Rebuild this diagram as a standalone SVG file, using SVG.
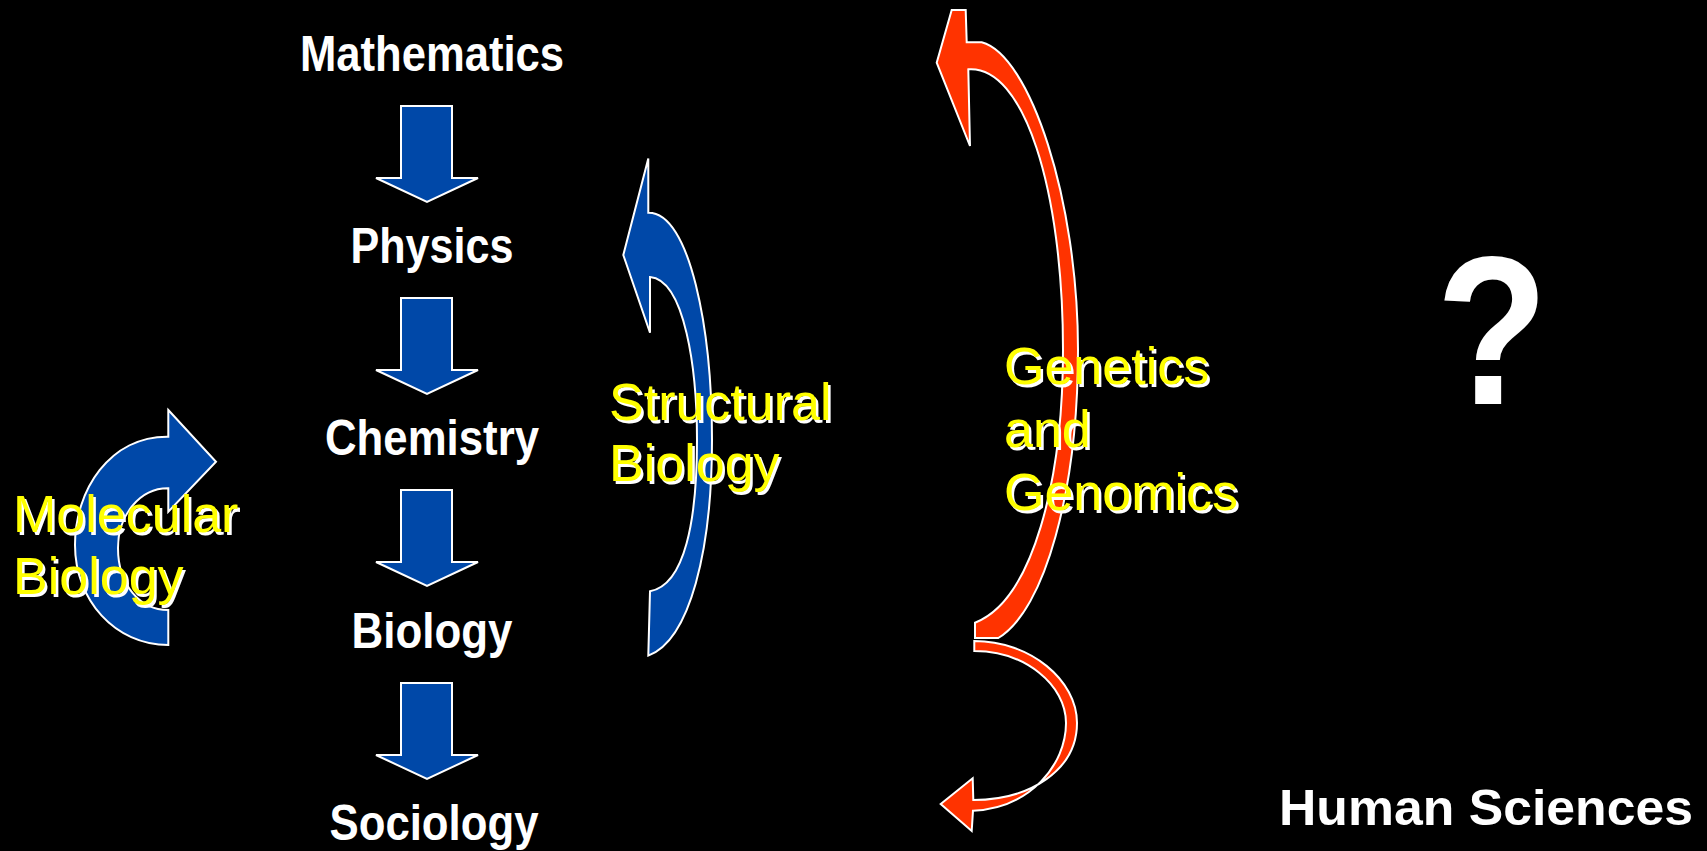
<svg xmlns="http://www.w3.org/2000/svg" xmlns:xlink="http://www.w3.org/1999/xlink" width="1707" height="851" viewBox="0 0 1707 851">
<style>
.node{font-family:"Liberation Sans Narrow","Liberation Sans",Arial,sans-serif;font-weight:bold;font-size:50px;fill:#ffffff;text-anchor:middle}
.lbl{font-family:"Liberation Sans",Arial,sans-serif;font-size:52px;fill:#ffff00}
.sh{fill:#ffffff}
.blue{fill:#0048a8;stroke:#ffffff;stroke-width:2;stroke-linejoin:miter}
.red{fill:#ff3300;stroke:#ffffff;stroke-width:2;stroke-linejoin:miter}
</style>
<defs>
<polygon id="down" class="blue" points="401,106 452,106 452,178 478,178 427,202 376,178 401,178"/>
</defs>
<rect width="1707" height="851" fill="#000000"/>
<g id="connectors">
<use xlink:href="#down"/>
<use xlink:href="#down" transform="translate(0,192)"/>
<use xlink:href="#down" transform="translate(0,384)"/>
<use xlink:href="#down" transform="translate(0,577)"/>
<path id="molecular-arrow" class="blue" d="M168.3,410 L216,461.7 L168.3,511.7 L168.3,488.3 C140,488 118,515 118,548 C118,585 140,610 168.3,610 L168.3,645 C115,645 75,600 75,545 C75,490 110,436 168.3,436.7 Z"/>
<path id="structural-arrow" class="blue" d="M648.3,158.6 L648.3,212.7 C690,212 712,330 712,440 C712,550 690,640 648.3,655.6 L650,591.3 C685,585 697,520 697,440 C697,370 685,280 650,277 L650,332.7 L623.3,255 Z"/>
<path id="genetics-arrow-up" class="red" d="M951.7,10 L936.7,62.7 L970,146 L968.3,69.3 C1024,65 1063,190 1063,350 C1063,480 1033,600 975,622.7 L975,638 L998.3,638 C1045,610 1078,490 1078,350 C1078,200 1030,55 981.7,42.3 L966.7,42.3 L965.7,10 Z"/>
<path id="genetics-arrow-down" class="red" d="M974.3,641 C1030,641 1077,680 1077,723 C1077,770 1030,800 973.3,800 L972.7,778.3 L940.7,804 L971.7,831 L973,810.7 C1030,808 1066,765 1066,723 C1066,685 1025,651 974.3,651 Z"/>
</g>
<g id="mathematics"><text class="node" x="432" y="71" textLength="264" lengthAdjust="spacingAndGlyphs">Mathematics</text></g>
<g id="physics"><text class="node" x="432" y="263" textLength="163" lengthAdjust="spacingAndGlyphs">Physics</text></g>
<g id="chemistry"><text class="node" x="432" y="455" textLength="214" lengthAdjust="spacingAndGlyphs">Chemistry</text></g>
<g id="biology"><text class="node" x="432" y="648" textLength="161" lengthAdjust="spacingAndGlyphs">Biology</text></g>
<g id="sociology"><text class="node" x="434" y="840" textLength="209" lengthAdjust="spacingAndGlyphs">Sociology</text></g>
<g id="molecular-biology">
<text class="lbl sh" x="15.5" y="534.5">Molecular</text>
<text class="lbl sh" x="15.5" y="596.5">Biology</text>
<text class="lbl" x="13" y="532">Molecular</text>
<text class="lbl" x="13" y="594">Biology</text>
</g>
<g id="structural-biology">
<text class="lbl sh" x="611.5" y="422.5">Structural</text>
<text class="lbl sh" x="611.5" y="483.5">Biology</text>
<text class="lbl" x="609" y="420">Structural</text>
<text class="lbl" x="609" y="481">Biology</text>
</g>
<g id="genetics-and-genomics">
<text class="lbl sh" x="1006.5" y="386.5">Genetics</text>
<text class="lbl sh" x="1006.5" y="449.5">and</text>
<text class="lbl sh" x="1006.5" y="512.5">Genomics</text>
<text class="lbl" x="1004" y="384">Genetics</text>
<text class="lbl" x="1004" y="447">and</text>
<text class="lbl" x="1004" y="510">Genomics</text>
</g>
<g id="question">
<text x="1492" y="404" font-family="Liberation Sans,Arial,sans-serif" font-weight="bold" font-size="212" fill="#ffffff" text-anchor="middle" textLength="112" lengthAdjust="spacingAndGlyphs">?</text>
</g>
<g id="human-sciences">
<text x="1279" y="825" font-family="Liberation Sans Narrow,Liberation Sans,Arial,sans-serif" font-weight="bold" font-size="50" fill="#ffffff" textLength="414" lengthAdjust="spacingAndGlyphs">Human Sciences</text>
</g>
</svg>
